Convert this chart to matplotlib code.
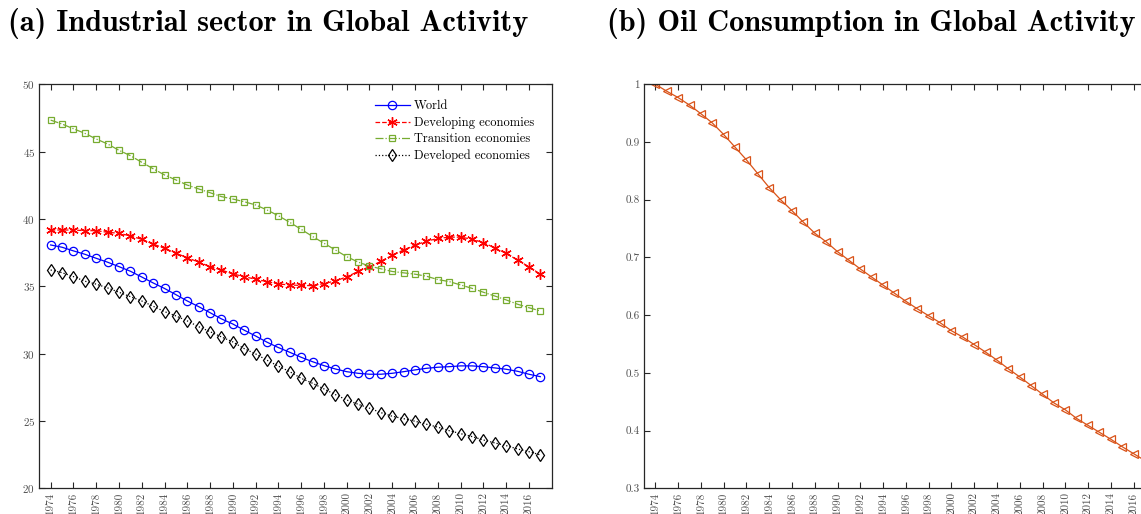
import matplotlib
matplotlib.use("Agg")
import matplotlib.pyplot as plt
import numpy as np

plt.rcParams["font.family"] = "cmr10"
plt.rcParams["mathtext.fontset"] = "cm"
plt.rcParams["axes.formatter.use_mathtext"] = True

years = np.arange(1974, 2018)

world = [38.07, 37.90, 37.63, 37.38, 37.08, 36.79, 36.46, 36.12, 35.69, 35.25,
         34.84, 34.38, 33.91, 33.49, 33.04, 32.58, 32.20, 31.74, 31.31, 30.85,
         30.45, 30.10, 29.73, 29.40, 29.11, 28.86, 28.66, 28.54, 28.47, 28.47,
         28.54, 28.66, 28.79, 28.91, 28.99, 29.03, 29.09, 29.09, 29.03, 28.94,
         28.84, 28.69, 28.47, 28.29]
developing = [39.18, 39.18, 39.18, 39.13, 39.13, 39.01, 38.94, 38.74, 38.49, 38.14,
              37.82, 37.45, 37.13, 36.79, 36.46, 36.21, 35.92, 35.72, 35.52, 35.35,
              35.17, 35.10, 35.06, 35.05, 35.20, 35.40, 35.70, 36.10, 36.45, 36.85,
              37.30, 37.70, 38.05, 38.35, 38.55, 38.65, 38.65, 38.50, 38.25, 37.85,
              37.45, 36.95, 36.45, 35.90]
transition = [47.34, 47.05, 46.70, 46.36, 45.94, 45.57, 45.10, 44.70, 44.21, 43.73,
              43.27, 42.90, 42.52, 42.23, 41.95, 41.66, 41.48, 41.28, 41.04, 40.67,
              40.24, 39.75, 39.23, 38.70, 38.20, 37.70, 37.20, 36.80, 36.50, 36.30,
              36.10, 36.00, 35.90, 35.75, 35.50, 35.35, 35.10, 34.85, 34.56, 34.28,
              33.99, 33.67, 33.41, 33.17]
developed = [36.21, 36.01, 35.72, 35.38, 35.16, 34.88, 34.56, 34.23, 33.91, 33.52,
             33.12, 32.80, 32.43, 32.00, 31.63, 31.24, 30.87, 30.37, 29.98, 29.51,
             29.07, 28.66, 28.17, 27.80, 27.38, 26.96, 26.56, 26.24, 25.95, 25.62,
             25.35, 25.17, 24.98, 24.76, 24.54, 24.28, 24.06, 23.84, 23.59, 23.37,
             23.17, 22.92, 22.72, 22.48]
oil = [1.000, 0.988, 0.977, 0.964, 0.949, 0.933, 0.913, 0.891, 0.869, 0.845,
       0.821, 0.800, 0.781, 0.761, 0.742, 0.727, 0.710, 0.695, 0.680, 0.666,
       0.652, 0.638, 0.624, 0.611, 0.599, 0.587, 0.573, 0.562, 0.549, 0.536,
       0.522, 0.507, 0.493, 0.478, 0.463, 0.448, 0.436, 0.421, 0.409, 0.397,
       0.385, 0.372, 0.360, 0.348]

tick_years = np.arange(1974, 2017, 2)
label_grey = "#4d4d4d"


def style_axes(ax):
    ax.set_xlim(1973, 2018)
    ax.set_xticks(tick_years)
    ax.set_xticklabels([str(y) for y in tick_years], rotation=90)
    ax.tick_params(direction="in", top=True, right=True, length=4, width=0.8,
                   labelsize=8, labelcolor=label_grey, color="#262626", pad=3)
    for s in ax.spines.values():
        s.set_linewidth(0.9)
        s.set_color("#262626")


fig = plt.figure(figsize=(11.41, 5.14), dpi=100)

ax1 = fig.add_axes([0.0344, 0.05, 0.4491, 0.786])
ax1.plot(years, world, color="blue", linestyle="-", linewidth=0.9, marker="o",
         markersize=6, markerfacecolor="none", markeredgewidth=0.9, label="World")
ax1.plot(years, developing, color="red", linestyle="--", linewidth=0.9,
         marker=(6, 2, 0), markersize=7.5, markeredgewidth=1.0, label="Developing economies")
ax1.plot(years, transition, color="#77AC30", linestyle="-.", linewidth=0.9, marker="s",
         markersize=5, markerfacecolor="none", markeredgewidth=0.9, label="Transition economies")
ax1.plot(years, developed, color="black", linestyle=":", linewidth=0.9, marker="d",
         markersize=6.5, markerfacecolor="none", markeredgewidth=0.9, label="Developed economies")
ax1.set_ylim(20, 50)
ax1.set_yticks(np.arange(20, 51, 5))
style_axes(ax1)
ax1.legend(loc="upper right", bbox_to_anchor=(0.985, 0.985), frameon=False, fontsize=9,
           handlelength=2.8, handletextpad=0.3, labelspacing=0.35, borderpad=0.3)

ax2 = fig.add_axes([0.5644, 0.05, 0.4491, 0.786])
ax2.plot(years, oil, color="#D95319", linestyle="-", linewidth=0.9, marker="<",
         markersize=6, markerfacecolor="none", markeredgewidth=0.9)
ax2.set_ylim(0.3, 1.0)
ax2.set_yticks(np.round(np.arange(0.3, 1.01, 0.1), 1))
ax2.set_yticklabels(["0.3", "0.4", "0.5", "0.6", "0.7", "0.8", "0.9", "1"])
style_axes(ax2)

fig.text(0.007, 0.94, "(a) Industrial sector in Global Activity", family="cmb10",
         fontsize=21.8, ha="left", va="baseline")
fig.text(0.532, 0.94, "(b) Oil Consumption in Global Activity", family="cmb10",
         fontsize=21.8, ha="left", va="baseline")

fig.savefig("out.png", dpi=100)
